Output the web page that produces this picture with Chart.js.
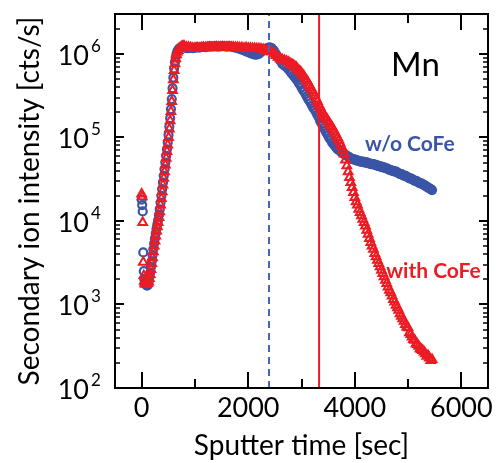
<!DOCTYPE html>
<html>
<head>
<meta charset="utf-8">
<script src="https://cdn.jsdelivr.net/npm/chart.js@4.4.1/dist/chart.umd.min.js"></script>
<style>
  html, body { margin: 0; padding: 0; background: #fff; }
  canvas { display: block; }
</style>
</head>
<body>
<canvas id="sims" width="498" height="463"></canvas>
<script>
// Mn depth profile: sputter time [s] and Mn secondary ion counts [cts/s]
var sputterTime = [
    0, 10, 20, 30, 40, 50, 60, 70,
    85, 100, 115, 130, 145, 160, 175, 190, 205, 220,
    235, 250, 265, 280, 295, 310, 325, 340, 355, 370,
    385, 400, 415, 430, 445, 460, 475, 490, 505, 520,
    535, 550, 565, 580, 595, 610, 625, 640, 655, 670,
    685, 700, 720, 740, 760, 780, 800,
    840, 880, 920, 960, 1000, 1040, 1080, 1120, 1160, 1200,
    1240, 1280, 1320, 1360, 1400, 1440, 1480, 1520, 1560, 1600,
    1640, 1680, 1720, 1760, 1800, 1840, 1880, 1920, 1960, 2000,
    2040, 2080, 2120, 2160, 2200, 2240, 2280, 2320, 2360, 2400,
    2440, 2480, 2520, 2560, 2600, 2640, 2680, 2720, 2760, 2800,
    2825, 2850, 2875, 2900, 2925, 2950, 2975, 3000, 3025, 3050,
    3075, 3100, 3125, 3150, 3175, 3200, 3225, 3250, 3275, 3300,
    3325, 3350, 3375, 3400, 3425, 3450, 3475, 3500, 3525, 3550,
    3575, 3600, 3625, 3650, 3675, 3700, 3725, 3750, 3775, 3800,
    3825, 3850, 3875, 3900, 3925, 3950, 3975, 4000, 4025, 4050,
    4075, 4100, 4125, 4150, 4175, 4200, 4225, 4250, 4275, 4300,
    4325, 4350, 4375, 4400, 4425, 4450, 4475, 4500, 4525, 4550,
    4575, 4600, 4625, 4650, 4675, 4700, 4725, 4750, 4775, 4800,
    4825, 4850, 4875, 4900, 4925, 4950, 4975, 5000, 5025, 5050,
    5075, 5100, 5125, 5150, 5175, 5200, 5225, 5250, 5275, 5300,
    5325, 5350, 5375, 5400, 5425, 5450
];

// sample without the CoFe layer
var withoutCoFe = [
    1.8e4, 1.55e4, 1.3e4, 4.2e3, 2.5e3, 2.0e3, 1.8e3, 1.75e3,
    1.75e3, 1.68e3, 1.70e3, 1.85e3, 2.10e3, 2.40e3, 2.80e3, 3.30e3, 3.90e3, 4.60e3,
    5.40e3, 6.20e3, 7.10e3, 8.10e3, 9.10e3, 1.02e4, 1.18e4, 1.38e4, 1.66e4, 2.00e4,
    2.40e4, 2.88e4, 3.47e4, 4.16e4, 5.00e4, 6.00e4, 7.20e4, 8.70e4, 1.07e5, 1.35e5,
    1.70e5, 2.18e5, 2.88e5, 3.88e5, 5.20e5, 6.70e5, 8.00e5, 9.10e5, 1.00e6, 1.07e6,
    1.11e6, 1.15e6, 1.17e6, 1.19e6, 1.20e6, 1.21e6, 1.21e6,
    1.17e6, 1.17e6, 1.18e6, 1.17e6, 1.18e6, 1.20e6, 1.19e6, 1.20e6, 1.21e6, 1.20e6,
    1.22e6, 1.23e6, 1.22e6, 1.23e6, 1.23e6, 1.22e6, 1.23e6, 1.24e6, 1.23e6, 1.22e6,
    1.23e6, 1.22e6, 1.20e6, 1.19e6, 1.17e6, 1.15e6, 1.12e6, 1.10e6, 1.07e6, 1.05e6,
    1.02e6, 1.00e6, 9.77e5, 9.80e5, 1.00e6, 1.05e6, 1.10e6, 1.15e6, 1.17e6, 1.20e6,
    1.17e6, 1.10e6, 1.00e6, 9.12e5, 8.32e5, 7.59e5, 7.24e5, 6.92e5, 6.46e5, 6.03e5,
    5.75e5, 5.50e5, 5.25e5, 5.01e5, 4.79e5, 4.47e5, 4.27e5, 3.98e5, 3.72e5, 3.55e5,
    3.31e5, 3.09e5, 2.88e5, 2.75e5, 2.57e5, 2.40e5, 2.24e5, 2.14e5, 2.00e5, 1.86e5,
    1.74e5, 1.58e5, 1.48e5, 1.38e5, 1.29e5, 1.20e5, 1.12e5, 1.05e5, 9.77e4, 9.33e4,
    8.71e4, 8.32e4, 7.94e4, 7.59e4, 7.24e4, 7.08e4, 6.92e4, 6.61e4, 6.46e4, 6.31e4,
    6.17e4, 6.03e4, 5.89e4, 5.75e4, 5.62e4, 5.50e4, 5.50e4, 5.37e4, 5.37e4, 5.25e4,
    5.25e4, 5.13e4, 5.13e4, 5.13e4, 5.01e4, 5.01e4, 5.01e4, 4.90e4, 4.90e4, 4.79e4,
    4.79e4, 4.79e4, 4.68e4, 4.68e4, 4.57e4, 4.57e4, 4.47e4, 4.47e4, 4.37e4, 4.37e4,
    4.27e4, 4.27e4, 4.17e4, 4.07e4, 4.07e4, 3.98e4, 3.98e4, 3.89e4, 3.89e4, 3.80e4,
    3.72e4, 3.63e4, 3.63e4, 3.55e4, 3.47e4, 3.47e4, 3.39e4, 3.31e4, 3.24e4, 3.24e4,
    3.16e4, 3.09e4, 3.02e4, 3.02e4, 2.95e4, 2.88e4, 2.82e4, 2.82e4, 2.75e4, 2.69e4,
    2.63e4, 2.57e4, 2.51e4, 2.45e4, 2.40e4, 2.34e4
];

// sample with the CoFe layer
var withCoFe = [
    2.1e4, 1.95e4, 9.6e3, 3.2e3, 2.2e3, 1.9e3, 1.8e3, 1.75e3,
    1.82e3, 1.78e3, 1.78e3, 1.86e3, 2.04e3, 2.29e3, 2.63e3, 3.09e3, 3.63e3, 4.27e3,
    5.01e3, 5.75e3, 6.61e3, 7.59e3, 8.51e3, 9.55e3, 1.10e4, 1.29e4, 1.55e4, 1.86e4,
    2.24e4, 2.69e4, 3.24e4, 3.89e4, 4.68e4, 5.62e4, 6.76e4, 8.13e4, 1.00e5, 1.26e5,
    1.58e5, 2.04e5, 2.69e5, 3.63e5, 4.90e5, 6.31e5, 7.59e5, 8.71e5, 9.77e5, 1.05e6,
    1.10e6, 1.15e6, 1.17e6, 1.20e6, 1.23e6, 1.23e6, 1.23e6,
    1.20e6, 1.20e6, 1.18e6, 1.17e6, 1.17e6, 1.18e6, 1.17e6, 1.18e6, 1.19e6, 1.18e6,
    1.19e6, 1.20e6, 1.19e6, 1.20e6, 1.21e6, 1.20e6, 1.20e6, 1.21e6, 1.20e6, 1.20e6,
    1.21e6, 1.20e6, 1.20e6, 1.19e6, 1.19e6, 1.18e6, 1.18e6, 1.17e6, 1.18e6, 1.17e6,
    1.17e6, 1.16e6, 1.16e6, 1.15e6, 1.15e6, 1.14e6, 1.13e6, 1.11e6, 1.09e6, 1.07e6,
    1.05e6, 1.00e6, 9.55e5, 9.12e5, 8.71e5, 8.51e5, 8.32e5, 8.13e5, 7.94e5, 7.59e5,
    7.41e5, 7.24e5, 7.08e5, 6.92e5, 6.61e5, 6.31e5, 6.17e5, 5.89e5, 5.62e5, 5.37e5,
    5.01e5, 4.79e5, 4.47e5, 4.17e5, 3.89e5, 3.63e5, 3.39e5, 3.16e5, 2.88e5, 2.69e5,
    2.45e5, 2.29e5, 2.09e5, 1.95e5, 1.86e5, 1.74e5, 1.66e5, 1.55e5, 1.48e5, 1.38e5,
    1.32e5, 1.23e5, 1.15e5, 1.07e5, 1.00e5, 9.33e4, 8.51e4, 7.76e4, 7.08e4, 6.31e4,
    5.37e4, 4.57e4, 3.89e4, 3.31e4, 2.88e4, 2.51e4, 2.19e4, 1.91e4, 1.70e4, 1.55e4,
    1.38e4, 1.26e4, 1.15e4, 1.05e4, 9.55e3, 8.71e3, 7.76e3, 6.92e3, 6.17e3, 5.50e3,
    5.01e3, 4.57e3, 4.07e3, 3.72e3, 3.39e3, 3.09e3, 2.82e3, 2.57e3, 2.34e3, 2.14e3,
    1.95e3, 1.78e3, 1.62e3, 1.48e3, 1.38e3, 1.26e3, 1.15e3, 1.07e3, 977, 912,
    851, 776, 724, 676, 631, 575, 537, 525, 457, 437,
    407, 380, 372, 339, 331, 316, 295, 288, 282, 269,
    257, 240, 245, 229, 214, 219
];

// interface positions marked on the time axis
var dashedLineTime = 2390;
var solidLineTime = 3330;

// axis ticks
var xTickLabels = [0, 2000, 4000, 6000];
var xMinorTicks = [1000, 3000, 5000];
var yTickExponents = [2, 3, 4, 5, 6];

var BLUE = '#3a55a6';
var RED = '#ec1c24';
var FONT = 'Lato';

function toPoints(values) {
    return sputterTime.map(function(t, i) { return {x: t, y: values[i]}; });
}

function vLine(t) {
    return [{x: t, y: 100}, {x: t, y: 3e6}];
}

// frame, inward ticks, tick labels and text notes
var decor = {
    id: 'decor',
    afterDraw: function(chart) {
        var ctx = chart.ctx, a = chart.chartArea;
        var xs = chart.scales.x, ys = chart.scales.y;
        ctx.save();
        ctx.strokeStyle = '#000';
        ctx.lineCap = 'butt';

        function seg(x1, y1, x2, y2, w) {
            ctx.lineWidth = w;
            ctx.beginPath();
            ctx.moveTo(x1, y1);
            ctx.lineTo(x2, y2);
            ctx.stroke();
        }

        xTickLabels.forEach(function(v) {
            var px = Math.round(xs.getPixelForValue(v));
            seg(px, a.bottom, px, a.bottom - 16, 2);
            seg(px, a.top, px, a.top + 16, 2);
        });
        xMinorTicks.forEach(function(v) {
            var px = Math.round(xs.getPixelForValue(v));
            seg(px, a.bottom, px, a.bottom - 9, 2);
            seg(px, a.top, px, a.top + 9, 2);
        });

        yTickExponents.forEach(function(e) {
            var py = Math.round(ys.getPixelForValue(Math.pow(10, e)));
            seg(a.left, py, a.left + 9, py, 2);
            seg(a.right, py, a.right - 9, py, 2);
            for (var m = 2; m <= 9; m++) {
                var v = m * Math.pow(10, e);
                if (v > ys.max) break;
                var pm = Math.round(ys.getPixelForValue(v));
                seg(a.left, pm, a.left + 5, pm, 1.5);
                seg(a.right, pm, a.right - 5, pm, 1.5);
            }
        });

        ctx.lineWidth = 2;
        ctx.strokeRect(a.left, a.top, a.right - a.left, a.bottom - a.top);

        // tick labels
        ctx.fillStyle = '#000';
        ctx.textBaseline = 'alphabetic';
        ctx.textAlign = 'center';
        ctx.font = '27px ' + FONT;
        xTickLabels.forEach(function(v) {
            ctx.fillText(String(v), xs.getPixelForValue(v), a.bottom + 29);
        });
        yTickExponents.forEach(function(e) {
            var py = ys.getPixelForValue(Math.pow(10, e));
            ctx.textAlign = 'right';
            ctx.font = '27px ' + FONT;
            ctx.fillText('10', a.left - 26, py + 11);
            ctx.textAlign = 'left';
            ctx.font = '17px ' + FONT;
            ctx.fillText(String(e), a.left - 24, py - 2);
        });

        // notes
        ctx.textAlign = 'left';
        ctx.font = '33px ' + FONT;
        ctx.fillStyle = '#000';
        ctx.fillText('Mn', xs.getPixelForValue(4680), ys.getPixelForValue(5.5e5));
        ctx.font = 'bold 21px ' + FONT;
        ctx.fillStyle = BLUE;
        ctx.fillText('w/o CoFe', xs.getPixelForValue(4190), ys.getPixelForValue(6.9e4));
        ctx.fillStyle = RED;
        ctx.fillText('with CoFe', xs.getPixelForValue(4590), ys.getPixelForValue(2.1e3));
        ctx.restore();
    }
};

new Chart(document.getElementById('sims'), {
    type: 'scatter',
    data: {
        datasets: [
            {
                label: 'dashed',
                data: vLine(dashedLineTime),
                showLine: true,
                borderColor: '#4466bb',
                borderWidth: 2,
                borderDash: [7, 5],
                pointRadius: 0,
                order: 0
            },
            {
                label: 'solid',
                data: vLine(solidLineTime),
                showLine: true,
                borderColor: RED,
                borderWidth: 2,
                pointRadius: 0,
                order: 0
            },
            {
                label: 'with CoFe',
                data: toPoints(withCoFe),
                pointStyle: 'triangle',
                pointRadius: 5,
                borderWidth: 2,
                borderColor: RED,
                backgroundColor: 'rgba(0,0,0,0)',
                order: 1
            },
            {
                label: 'w/o CoFe',
                data: toPoints(withoutCoFe),
                pointStyle: 'circle',
                pointRadius: 4,
                borderWidth: 2.2,
                borderColor: BLUE,
                backgroundColor: 'rgba(0,0,0,0)',
                order: 2
            }
        ]
    },
    options: {
        responsive: false,
        animation: false,
        devicePixelRatio: 1,
        layout: {padding: {top: 14, right: 10, left: 0, bottom: 0}},
        plugins: {
            legend: {display: false},
            tooltip: {enabled: false}
        },
        scales: {
            x: {
                type: 'linear',
                min: -500,
                max: 6500,
                grid: {display: false},
                border: {display: false},
                ticks: {display: false},
                title: {
                    display: true,
                    text: 'Sputter time [sec]',
                    color: '#000',
                    font: {family: FONT, size: 28},
                    padding: {top: 0, bottom: 0}
                },
                afterFit: function(scale) { scale.height = 75; }
            },
            y: {
                type: 'logarithmic',
                min: 100,
                max: 3e6,
                grid: {display: false},
                border: {display: false},
                ticks: {display: false},
                title: {
                    display: true,
                    text: 'Secondary ion intensity [cts/s]',
                    color: '#000',
                    font: {family: FONT, size: 28},
                    padding: {top: 13, bottom: 0}
                },
                afterFit: function(scale) { scale.width = 115; }
            }
        }
    },
    plugins: [decor]
});
</script>
</body>
</html>
